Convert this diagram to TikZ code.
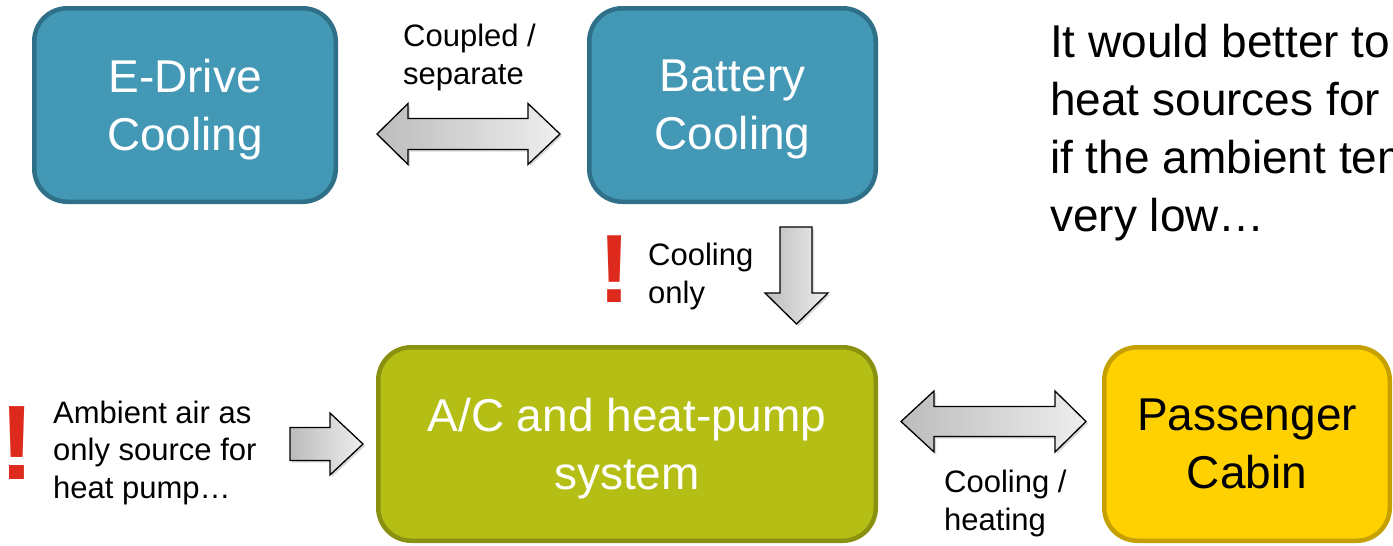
\documentclass[tikz,border=0pt]{standalone}
\usepackage{fontspec}
\setmainfont{Liberation Sans}
\usetikzlibrary{shadows}
\definecolor{tealfill}{RGB}{67,152,182}
\definecolor{tealdraw}{RGB}{47,111,135}
\definecolor{olivefill}{RGB}{181,190,20}
\definecolor{olivedraw}{RGB}{138,144,16}
\definecolor{yelfill}{RGB}{255,209,0}
\definecolor{yeldraw}{RGB}{198,160,0}
\definecolor{warnred}{RGB}{222,42,28}
\tikzset{
  box/.style={rounded corners=33pt, line width=4.5pt, minimum height=193.5pt,
    align=center, inner sep=0pt, text depth=0pt, font=\fontsize{46}{58}\selectfont},
  tealbox/.style={box, fill=tealfill, draw=tealdraw, text=white},
  olivebox/.style={box, fill=olivefill, draw=olivedraw, text=white},
  yelbox/.style={box, fill=yelfill, draw=yeldraw, text=black},
  small/.style={align=left, inner sep=0pt, anchor=base west, font=\fontsize{31}{37.5}\selectfont},
  big/.style={align=left, inner sep=0pt, anchor=base west, font=\fontsize{46}{58}\selectfont},
  warn/.style={inner sep=0pt, anchor=base, text=warnred, font=\bfseries\fontsize{#1}{#1}\selectfont},
  blockarrow/.style={draw=black, line width=1.3pt, line join=miter,
    left color={rgb,255:red,188;green,188;blue,188}, right color={rgb,255:red,238;green,238;blue,238},
    drop shadow={opacity=0.3, shadow xshift=2pt, shadow yshift=-2pt}},
}
\begin{document}
\begin{tikzpicture}[x=1pt,y=-1pt]
\useasboundingbox (0,0) rectangle (1393,546);
\clip (0,0) rectangle (1393,546);
\fill[white] (0,0) rectangle (1393,546);

% boxes
\node[tealbox, minimum width=301.5pt] (edrive) at (185,105) {E-Drive\\Cooling};
\node[tealbox, minimum width=286.5pt] (battery) at (732.5,105) {Battery\\Cooling};
\node[olivebox, minimum width=497.5pt] (ac) at (627,444) {A/C and heat-pump\\system};
\node[yelbox, minimum width=285.5pt] (cabin) at (1247,444) {Passenger\\Cabin};

% block arrows
\draw[blockarrow] (377,134) -- (408,103.5) -- (408,118.5) -- (528,118.5) -- (528,103.5)
  -- (560,134) -- (528,164.5) -- (528,149.5) -- (408,149.5) -- (408,164.5) -- cycle;
\draw[blockarrow] (780,227) -- (812,227) -- (812,293) -- (828,293) -- (796.5,324)
  -- (765,293) -- (780,293) -- cycle;
\draw[blockarrow] (290,427.5) -- (330,427.5) -- (330,413) -- (363,444) -- (330,475)
  -- (330,460.5) -- (290,460.5) -- cycle;
\draw[blockarrow] (901,421.5) -- (934,391) -- (934,406.5) -- (1055,406.5) -- (1055,391)
  -- (1086,421.5) -- (1055,452) -- (1055,436.5) -- (934,436.5) -- (934,452) -- cycle;

% labels (anchor = baseline of last line)
\node[small] (l1) at (403,84) {Coupled /\\separate};
\node[small] (l2) at (648,303) {Cooling\\only};
\node[small] (l3) at (53,498) {Ambient air as\\only source for\\heat pump\ldots};
\node[small] (l4) at (944,530) {Cooling /\\heating};
\node[big] (note) at (1050,231) {It would better to\\heat sources for\\if the ambient tem\\very low\ldots};

% warnings
\node[warn=97] (w1) at (614.5,302) {!};
\node[warn=106] (w2) at (17.5,479) {!};
\end{tikzpicture}
\end{document}
